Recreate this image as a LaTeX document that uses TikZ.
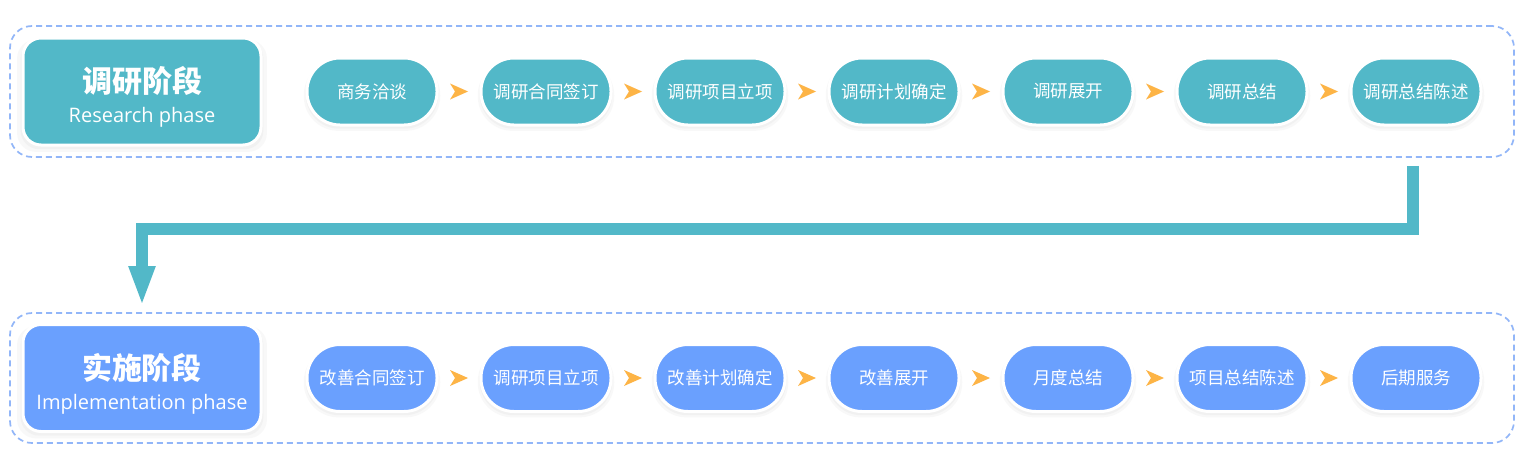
\documentclass[tikz,border=0pt]{standalone}
\usepackage{fontspec}
\setmainfont{Noto Sans CJK SC}
\newfontfamily\latinfont{Open Sans}
\usetikzlibrary{arrows.meta,calc,shadows}
\definecolor{researchcol}{HTML}{52B8C8}
\definecolor{implcol}{HTML}{6AA0FE}
\definecolor{chevroncol}{HTML}{FDB446}
\definecolor{framecol}{HTML}{92B6F8}
\tikzset{
    frame/.style={draw=framecol, line width=1.7pt, dash pattern=on 6pt off 4pt,
        rounded corners=22pt, minimum width=1504pt, minimum height=131pt},
    softshadow/.style={drop shadow={opacity=0.05, shadow xshift=0pt, shadow yshift=-4pt, shadow scale=1.05},
        drop shadow={opacity=0.05, shadow xshift=0pt, shadow yshift=-3pt, shadow scale=1.02}},
    phasebox/.style={draw=white, line width=3pt, rounded corners=18pt,
        minimum width=238pt, minimum height=107pt, text=white, align=center, softshadow},
    stepbox/.style={draw=white, line width=3pt, rounded corners=33pt,
        minimum width=130pt, minimum height=67pt, text=white,
        font=\fontsize{17.5}{20}\selectfont, softshadow},
    chevron/.style={fill=chevroncol}
}
\begin{document}
\begin{tikzpicture}[x=1pt, y=-1pt]
    \useasboundingbox (0,0) rectangle (1524,466);
    \fill[white] (0,0) rectangle (1524,466);
    % frames
    \node[frame] (rframe) at (762,91.5) {};
    \node[frame, minimum height=130pt] (iframe) at (762,378) {};
    % phase boxes
    \node[phasebox, fill=researchcol] (rhead) at (142,91.5)
        {\fontsize{30}{34}\selectfont\bfseries\rule{0pt}{37pt}调研阶段\\[11pt]
         \latinfont\fontsize{20}{22}\selectfont Research phase};
    \node[phasebox, fill=implcol] (ihead) at (142,378)
        {\fontsize{30}{34}\selectfont\bfseries\rule{0pt}{37pt}实施阶段\\[11pt]
         \latinfont\fontsize{20}{22}\selectfont Implementation phase};
    % steps
    \foreach \txt [count=\i] in {商务洽谈, 调研合同签订, 调研项目立项, 调研计划确定,
            调研展开, 调研总结, 调研总结陈述}
        \node[stepbox, fill=researchcol] (r\i) at ({372+(\i-1)*174}, 91.5) {\txt};
    \foreach \txt [count=\i] in {改善合同签订, 调研项目立项, 改善计划确定, 改善展开,
            月度总结, 项目总结陈述, 后期服务}
        \node[stepbox, fill=implcol] (s\i) at ({372+(\i-1)*174}, 378) {\txt};
    \foreach \a/\b in {1/2, 2/3, 3/4, 4/5, 5/6, 6/7} {
        \fill[chevron] ($(r\a.east)!0.5!(r\b.west)$) ++(-9,-8) -- ++(18,8) -- ++(-18,8) -- ++(5,-8) -- cycle;
        \fill[chevron] ($(s\a.east)!0.5!(s\b.west)$) ++(-9,-8) -- ++(18,8) -- ++(-18,8) -- ++(5,-8) -- cycle;
    }
    % link between phases
    \coordinate (linkstart) at ([xshift=-3pt, yshift=-8pt]rframe.south -| r7.center);
    \coordinate (linkend) at ([yshift=6pt]iframe.north -| ihead.center);
    \draw[researchcol, line width=12pt, -{Triangle[width=24pt, length=40pt]}]
        (linkstart) -- ++(0,63) -| (linkend);
\end{tikzpicture}
\end{document}
